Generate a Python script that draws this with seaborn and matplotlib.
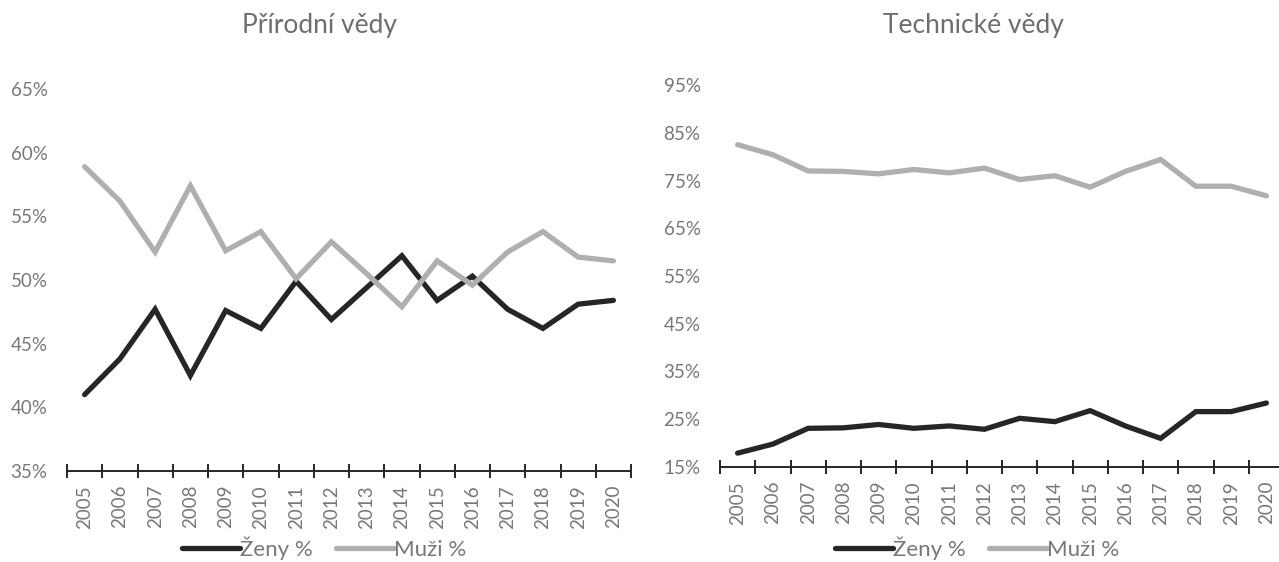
import numpy as np
import pandas as pd
import matplotlib.pyplot as plt
import matplotlib.ticker as mticker
import seaborn as sns

# ── Data ──────────────────────────────────────────────────────────────────────
YEARS = [str(y) for y in range(2005, 2021)]

NAT_ZENY = [41.0, 43.8, 47.7, 42.5, 47.6, 46.2, 49.9, 46.9,
            49.4, 51.9, 48.4, 50.3, 47.7, 46.2, 48.1, 48.4]
NAT_MUZI = [58.9, 56.2, 52.2, 57.4, 52.3, 53.8, 50.1, 53.0,
            50.5, 47.9, 51.5, 49.6, 52.2, 53.8, 51.8, 51.5]

TECH_ZENY = [17.9, 19.8, 23.1, 23.2, 23.9, 23.1, 23.6, 22.9,
             25.2, 24.5, 26.8, 23.6, 21.0, 26.6, 26.6, 28.4]
TECH_MUZI = [82.5, 80.4, 77.0, 76.9, 76.4, 77.3, 76.6, 77.6,
             75.2, 76.0, 73.6, 76.9, 79.4, 73.8, 73.8, 71.8]

SERIES = ["Ženy %", "Muži %"]

# ── Style ─────────────────────────────────────────────────────────────────────
BLACK = "#262626"
GRAY = "#AFAFB1"
TEXT = "#777777"
TITLE = "#6E6E6E"

sns.set_theme(style="white")
plt.rcParams["font.family"] = ["Lato", "DejaVu Sans"]


def _long(zeny, muzi):
    return pd.DataFrame({
        "pos": list(range(len(YEARS))) * 2,
        "value": zeny + muzi,
        "series": [SERIES[0]] * len(zeny) + [SERIES[1]] * len(muzi),
    })


def _panel(ax, zeny, muzi, ylim, step, title, title_x, legend_x):
    df = _long(zeny, muzi)
    sns.lineplot(data=df, x="pos", y="value", hue="series", hue_order=SERIES,
                 palette=[BLACK, GRAY], linewidth=3.8, ax=ax, legend=True)
    for ln in ax.lines:
        ln.set_solid_capstyle("round")
        ln.set_solid_joinstyle("miter")

    n = len(YEARS)
    ax.set_xlim(-0.5, n - 0.5)
    ax.set_ylim(*ylim)
    ax.set_xticks(range(n))
    ax.set_xticklabels(YEARS, rotation=90, color=TEXT, fontsize=13.5)
    ax.set_xticks(np.arange(-0.5, n, 1.0), minor=True)
    ax.tick_params(axis="x", which="major", length=0, pad=10)
    ax.tick_params(axis="x", which="minor", bottom=True, direction="inout",
                   length=9.5, width=1.4, color=BLACK)
    ax.set_yticks(np.arange(ylim[0], ylim[1] + 0.1, step))
    ax.yaxis.set_major_formatter(mticker.FuncFormatter(lambda v, _: f"{v:.0f}%"))
    ax.tick_params(axis="y", length=0, pad=14, labelsize=13.5, labelcolor=TEXT)

    for side in ("top", "right", "left"):
        ax.spines[side].set_visible(False)
    ax.spines["bottom"].set_color(BLACK)
    ax.spines["bottom"].set_linewidth(1.4)
    ax.set_xlabel("")
    ax.set_ylabel("")

    handles, labels = ax.get_legend_handles_labels()
    ax.get_legend().remove()
    ax.figure.legend(handles, labels, loc="center", ncol=2, frameon=False,
                     bbox_to_anchor=(legend_x, 0.024), fontsize=16,
                     handlelength=2.6, handletextpad=0.0, columnspacing=1.05,
                     labelcolor=TEXT)
    ax.figure.text(title_x, 0.955, title, ha="center", va="center",
                   fontsize=19, color=TITLE)


fig = plt.figure(figsize=(12.79, 5.62), dpi=100)
ax1 = fig.add_axes([67 / 1279, 1 - 471 / 562, 564 / 1279, (471 - 89) / 562])
ax2 = fig.add_axes([720 / 1279, 1 - 467 / 562, 564 / 1279, (467 - 85) / 562])

_panel(ax1, NAT_ZENY, NAT_MUZI, (35, 65), 5, "Přírodní vědy",
       319 / 1279, 324 / 1279)
_panel(ax2, TECH_ZENY, TECH_MUZI, (15, 95), 10, "Technické vědy",
       973 / 1279, 977 / 1279)

fig.savefig("out.png", dpi=100)
